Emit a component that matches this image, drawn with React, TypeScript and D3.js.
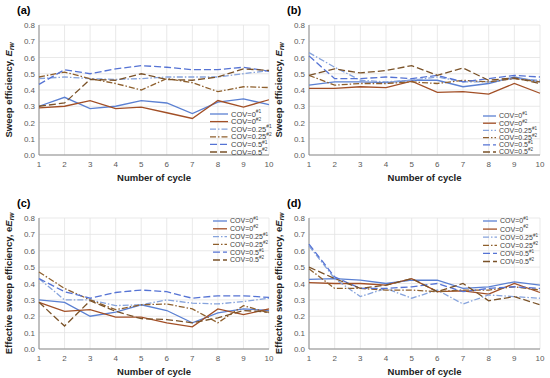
import { line, scaleLinear } from "d3";
import { useEffect } from "react";

const cycles = [1, 2, 3, 4, 5, 6, 7, 8, 9, 10];
const yTicks = [0, 0.1, 0.2, 0.3, 0.4, 0.5, 0.6, 0.7, 0.8];
const covLabels = ["0", "0", "0.25", "0.25", "0.5", "0.5"];
const runLabels = ["#1", "#2", "#1", "#2", "#1", "#2"];

// (a) sweep efficiency, order: COV=0 #1, #2, 0.25 #1, #2, 0.5 #1, #2
const panelA = [
  [0.3, 0.355, 0.285, 0.3, 0.335, 0.32, 0.255, 0.325, 0.345, 0.31],
  [0.29, 0.3, 0.335, 0.285, 0.295, 0.26, 0.225, 0.335, 0.295, 0.34],
  [0.47, 0.48, 0.47, 0.465, 0.47, 0.48, 0.48, 0.48, 0.5, 0.52],
  [0.48, 0.51, 0.47, 0.44, 0.4, 0.47, 0.445, 0.39, 0.42, 0.415],
  [0.435, 0.525, 0.5, 0.53, 0.55, 0.54, 0.525, 0.525, 0.54, 0.515],
  [0.3, 0.32, 0.465, 0.46, 0.5, 0.465, 0.46, 0.48, 0.53, 0.52],
];

// (b) sweep efficiency
const panelB = [
  [0.43, 0.45, 0.45, 0.445, 0.46, 0.46, 0.42, 0.44, 0.48, 0.45],
  [0.41, 0.41, 0.42, 0.415, 0.455, 0.385, 0.39, 0.375, 0.44, 0.38],
  [0.63, 0.54, 0.46, 0.45, 0.46, 0.48, 0.45, 0.45, 0.47, 0.46],
  [0.49, 0.43, 0.44, 0.44, 0.45, 0.44, 0.46, 0.45, 0.47, 0.45],
  [0.61, 0.47, 0.47, 0.48, 0.47, 0.49, 0.45, 0.47, 0.49, 0.48],
  [0.49, 0.53, 0.505, 0.52, 0.55, 0.49, 0.535, 0.46, 0.475, 0.44],
];

// (c) effective sweep efficiency
const panelC = [
  [0.3, 0.285, 0.2, 0.225, 0.27, 0.235, 0.16, 0.22, 0.245, 0.235],
  [0.285, 0.23, 0.24, 0.195, 0.195, 0.16, 0.135, 0.245, 0.21, 0.245],
  [0.43, 0.3, 0.3, 0.265, 0.27, 0.3, 0.28, 0.275, 0.29, 0.31],
  [0.47, 0.37, 0.3, 0.24, 0.27, 0.275, 0.245, 0.16, 0.265, 0.22],
  [0.43, 0.35, 0.31, 0.345, 0.36, 0.35, 0.31, 0.325, 0.325, 0.315],
  [0.285, 0.14, 0.295, 0.23, 0.185, 0.18, 0.16, 0.19, 0.235, 0.225],
];

// (d) effective sweep efficiency
const panelD = [
  [0.425, 0.43, 0.42, 0.4, 0.42, 0.42, 0.37, 0.38, 0.41, 0.39],
  [0.405, 0.4, 0.4, 0.39, 0.43, 0.35, 0.355, 0.335, 0.4, 0.345],
  [0.63, 0.43, 0.32, 0.37, 0.31, 0.36, 0.275, 0.33, 0.32, 0.31],
  [0.49, 0.37, 0.37, 0.36, 0.36, 0.35, 0.36, 0.36, 0.38, 0.36],
  [0.64, 0.44, 0.37, 0.37, 0.38, 0.4, 0.35, 0.37, 0.38, 0.37],
  [0.5, 0.43, 0.37, 0.39, 0.43, 0.35, 0.4, 0.295, 0.32, 0.27],
];

const COLORS = ["#5b80d2", "#a24f26", "#86a3dc", "#8e5f2c", "#5573d4", "#7a5228"];
const DASHES = ["none", "none", "6,2,1.5,2", "6,2,1.5,2", "7,3", "7,3"];
const FONT = "'Liberation Sans', Arial, sans-serif";

function Panel({ left, right, top, bottom, data, tag, effective, legend }) {
  const x = scaleLinear().domain([1, 10]).range([left, right]);
  const y = scaleLinear().domain([0, 0.8]).range([bottom, top]);
  const gen = line<number>()
    .x((_, i) => x(cycles[i]))
    .y((d) => y(d));
  const midY = (top + bottom) / 2;
  const titleX = left - 27;

  return (
    <g fontFamily={FONT}>
      <text x={left - 22} y={top - 11} fontSize={11} fontWeight="bold" fill="#000">
        {tag}
      </text>
      {yTicks.map((t) => (
        <line key={"h" + t} x1={left} x2={right} y1={y(t)} y2={y(t)} stroke="#e3e3e3" strokeWidth={0.8} />
      ))}
      {cycles.map((c) => (
        <line key={"v" + c} x1={x(c)} x2={x(c)} y1={top} y2={bottom} stroke="#e3e3e3" strokeWidth={0.8} />
      ))}
      <line x1={left} x2={left} y1={top} y2={bottom} stroke="#8c8c8c" strokeWidth={1} />
      <line x1={left} x2={right} y1={bottom} y2={bottom} stroke="#8c8c8c" strokeWidth={1} />
      {yTicks.map((t) => (
        <text key={"yt" + t} x={left - 4} y={y(t) + 3} fontSize={8} textAnchor="end" fill="#595959">
          {t.toFixed(1)}
        </text>
      ))}
      {cycles.map((c) => (
        <text key={"xt" + c} x={x(c)} y={bottom + 12} fontSize={8} textAnchor="middle" fill="#595959">
          {c}
        </text>
      ))}
      <text x={(left + right) / 2} y={bottom + 26} fontSize={9.5} fontWeight="bold" textAnchor="middle" fill="#222">
        Number of cycle
      </text>
      <text
        transform={`translate(${titleX},${midY}) rotate(-90)`}
        fontSize={9.5}
        fontWeight="bold"
        textAnchor="middle"
        fill="#222"
      >
        {effective ? "Effective sweep efficiency, e" : "Sweep efficiency, "}
        <tspan fontStyle="italic">E</tspan>
        <tspan fontStyle="italic" fontSize={6.5} dy={2}>
          rw
        </tspan>
      </text>
      {data.map((s, i) => (
        <path
          key={"s" + i}
          d={gen(s) ?? ""}
          fill="none"
          stroke={COLORS[i]}
          strokeWidth={1.3}
          strokeDasharray={DASHES[i]}
        />
      ))}
      {covLabels.map((cov, i) => {
        const ly = legend.y + i * legend.dy;
        return (
          <g key={"lg" + i}>
            <line
              x1={legend.x}
              x2={legend.x + legend.len}
              y1={ly}
              y2={ly}
              stroke={COLORS[i]}
              strokeWidth={1.3}
              strokeDasharray={DASHES[i]}
            />
            <text x={legend.x + legend.len + 3} y={ly + legend.fs * 0.35} fontSize={legend.fs} fill="#404040">
              {"COV=" + cov}
              <tspan fontSize={legend.fs * 0.65} dy={-legend.fs * 0.45}>
                {runLabels[i]}
              </tspan>
            </text>
          </g>
        );
      })}
    </g>
  );
}

export default function App() {
  useEffect(() => {
    document.body.style.margin = "0";
  }, []);

  return (
    <svg width={550} height={378} style={{ display: "block", background: "#fff" }}>
      <Panel
        left={39}
        right={269}
        top={25}
        bottom={155}
        data={panelA}
        tag="(a)"
        effective={false}
        legend={{ x: 210, y: 114, dy: 7.6, len: 18, fs: 7.5 }}
      />
      <Panel
        left={309}
        right={540}
        top={25}
        bottom={155}
        data={panelB}
        tag="(b)"
        effective={false}
        legend={{ x: 483, y: 116, dy: 7.2, len: 13, fs: 7 }}
      />
      <Panel
        left={39}
        right={269}
        top={218}
        bottom={349}
        data={panelC}
        tag="(c)"
        effective={true}
        legend={{ x: 213, y: 221, dy: 7.8, len: 14, fs: 7 }}
      />
      <Panel
        left={309}
        right={540}
        top={218}
        bottom={349}
        data={panelD}
        tag="(d)"
        effective={true}
        legend={{ x: 483, y: 221, dy: 8.1, len: 14, fs: 7 }}
      />
    </svg>
  );
}
